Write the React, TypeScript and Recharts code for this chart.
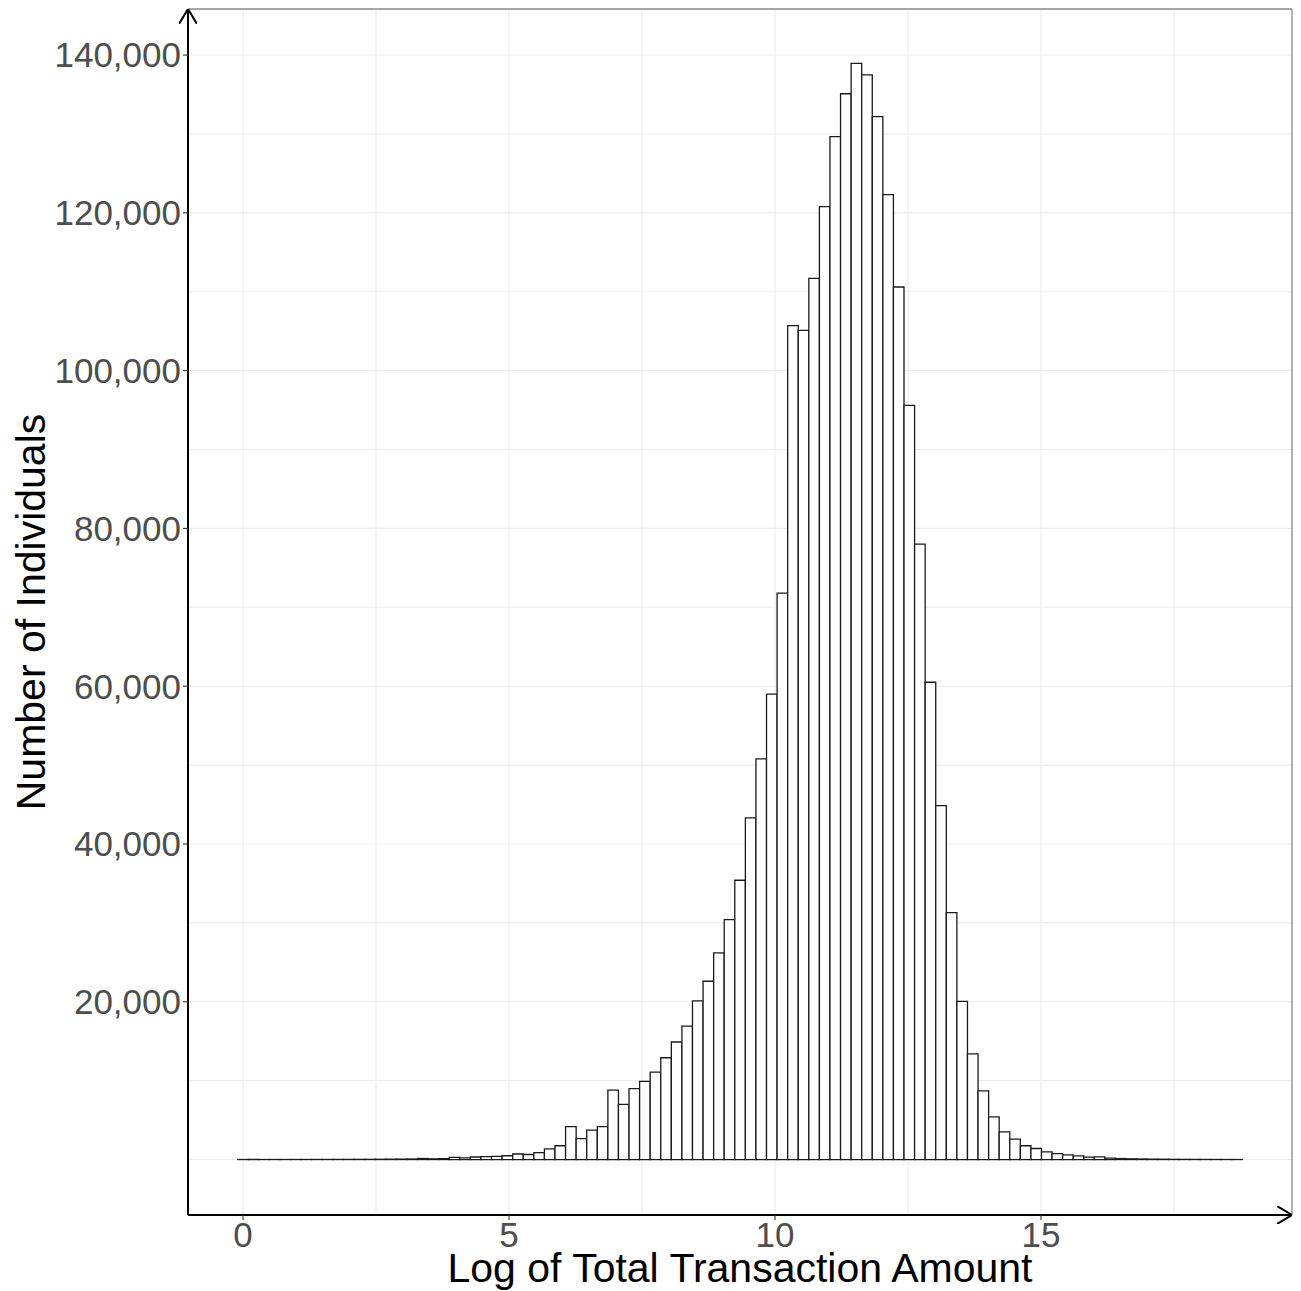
import { BarChart, Bar, XAxis, YAxis, CartesianGrid, ReferenceLine } from "recharts";

// histogram counts, one per bin (bin i centred at i * binWidth)
const counts = [
  4, 2, 3, 5, 4, 6, 8, 10, 12, 15, 18, 22, 28, 35, 45, 55, 70,
  130, 90, 110, 270, 200, 320, 370, 410, 480, 700, 640, 880, 1350,
  1750, 4160, 2640, 3740, 4160, 8810, 7000, 8980, 9910, 11090,
  12900, 14900, 16900, 20100, 22600, 26200, 30400, 35400, 43300, 50800,
  59000, 71800, 105700, 105100, 111700, 120800, 129650, 135100, 138950, 137500,
  132200, 122300, 110600, 95600, 78000, 60500, 44850, 31300, 20050, 13400,
  8700, 5400, 3500, 2600, 1750, 1400, 980, 740, 600, 460,
  300, 330, 170, 120, 90, 70, 50, 40, 30, 22,
  16, 12, 8, 5, 3,
];
const binWidth = 0.1988;

const xTicks = [0, 5, 10, 15];
const xGrid = [0, 2.5, 5, 7.5, 10, 12.5, 15, 17.5];
const yTicks = [20000, 40000, 60000, 80000, 100000, 120000, 140000];
const yGrid = [0, 10000, 20000, 30000, 40000, 50000, 60000, 70000, 80000, 90000, 100000, 110000, 120000, 130000, 140000];

const data = counts.map((n, i) => ({ x: i * binWidth, n }));

const W = 1301;
const H = 1291;
const xDomain: [number, number] = [-1.034, 19.718];
const yDomain: [number, number] = [-7030, 145840];
const plotLeft = 188;
const plotRight = 1292;
const plotTop = 9;
const plotBottom = 1215;
const font = "'Liberation Sans', Arial, Helvetica, sans-serif";

// bar width in px, a hair under the band so recharts keeps it
const barPx = (binWidth * (plotRight - plotLeft)) / (xDomain[1] - xDomain[0]) - 0.01;

const fmt = (v: number) => v.toLocaleString("en-US");

const XTitle = () => (
  <text x={(plotLeft + plotRight) / 2} y={1282} textAnchor="middle" fontSize={41} fontFamily={font} fill="#000">
    Log of Total Transaction Amount
  </text>
);

const YTitle = () => {
  const cy = (plotTop + plotBottom) / 2;
  return (
    <text x={45} y={cy} transform={`rotate(-90 45 ${cy})`} textAnchor="middle" fontSize={41} fontFamily={font} fill="#000">
      Number of Individuals
    </text>
  );
};

export default function App() {
  return (
    <div style={{ position: "absolute", left: 0, top: 0 }}>
      <svg width={0} height={0} style={{ position: "absolute" }}>
        <defs>
          <marker
            id="arrowHead"
            viewBox="0 0 15 18"
            refX={15}
            refY={9}
            markerWidth={15}
            markerHeight={18}
            markerUnits="userSpaceOnUse"
            orient="auto-start-reverse"
          >
            <path d="M0,0 L15,9 L0,18" fill="none" stroke="#000" strokeWidth={2} />
          </marker>
        </defs>
      </svg>
      <BarChart
        width={W}
        height={H}
        data={data}
        margin={{ top: plotTop, right: W - plotRight, left: 8, bottom: 0 }}
        barCategoryGap={0}
        barGap={0}
      >
        <CartesianGrid stroke="#EBEBEB" strokeWidth={1.1} verticalValues={xGrid} horizontalValues={yGrid} />
        {/* panel border, top and right */}
        <ReferenceLine y={yDomain[1]} stroke="#888888" strokeWidth={1.3} ifOverflow="visible" />
        <ReferenceLine x={xDomain[1]} stroke="#888888" strokeWidth={1.3} ifOverflow="visible" />
        <XAxis
          dataKey="x"
          type="number"
          domain={xDomain}
          ticks={xTicks}
          interval={0}
          height={H - plotBottom}
          tickSize={5}
          tickLine={{ stroke: "#333333", strokeWidth: 1.1 }}
          tick={{ fontSize: 35, fill: "#4D4D4D", fontFamily: font }}
          axisLine={{ stroke: "#000", strokeWidth: 2, markerEnd: "url(#arrowHead)" }}
          label={<XTitle />}
        />
        <YAxis
          type="number"
          domain={yDomain}
          ticks={yTicks}
          interval={0}
          width={plotLeft - 8}
          tickSize={5}
          tickFormatter={fmt}
          tickLine={{ stroke: "#333333", strokeWidth: 1.1 }}
          tick={{ fontSize: 35, fill: "#4D4D4D", fontFamily: font }}
          axisLine={{ stroke: "#000", strokeWidth: 2, markerStart: "url(#arrowHead)" }}
          label={<YTitle />}
        />
        <Bar
          dataKey="n"
          fill="#FFFFFF"
          stroke="#1A1A1A"
          strokeWidth={1.3}
          barSize={barPx}
          isAnimationActive={false}
        />
      </BarChart>
    </div>
  );
}
